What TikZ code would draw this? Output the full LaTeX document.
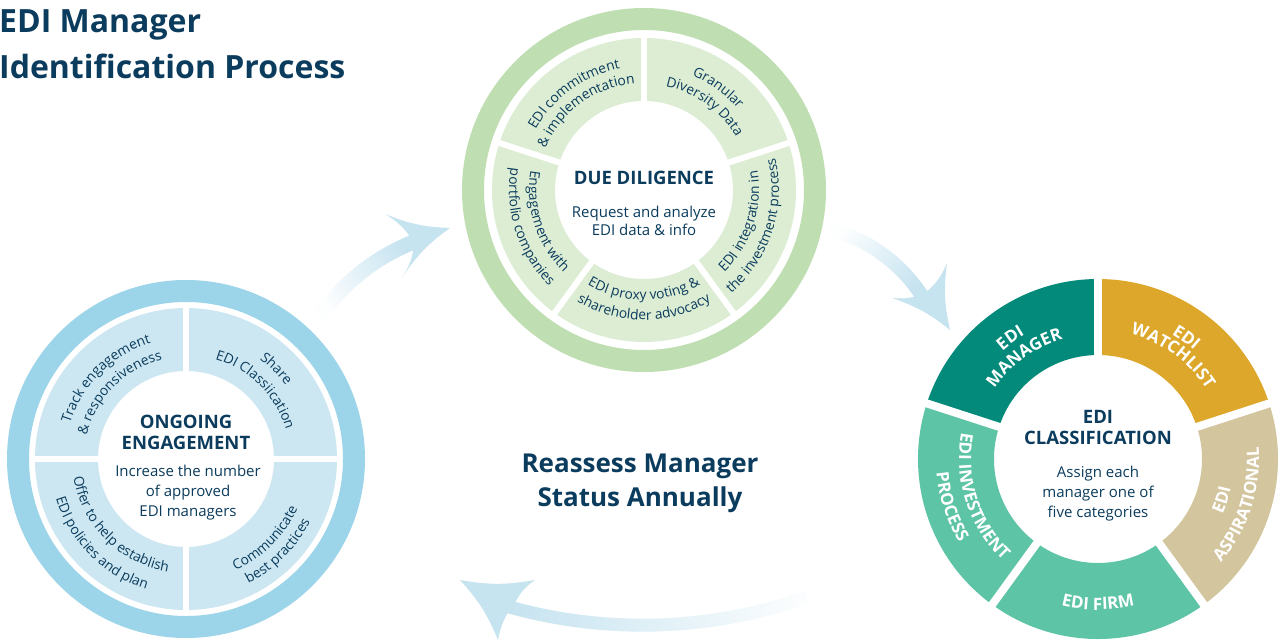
\documentclass[tikz,border=0pt]{standalone}
\usepackage{fontspec}
\setmainfont{Open Sans}
\usetikzlibrary{calc,decorations.text}

\definecolor{navy}{HTML}{0B3C5D}
\definecolor{ddring}{HTML}{BFDFB3}
\definecolor{ddseg}{HTML}{DCEDD4}
\definecolor{oering}{HTML}{9CD4E9}
\definecolor{oeseg}{HTML}{CCE7F2}
\definecolor{clmanager}{HTML}{038A7A}
\definecolor{clwatch}{HTML}{DCA72A}
\definecolor{claspir}{HTML}{D3C59E}
\definecolor{clfirm}{HTML}{5DC4A6}
\definecolor{arrowblue}{HTML}{C6E3F0}

\newcommand\segfnt{\fontsize{13.8}{16}\selectfont}
\newcommand\clfnt{\bfseries\fontsize{17}{20}\selectfont}

% annular sector: colour, centre, start angle, end angle, inner radius, outer radius
\newcommand\ringpiece[6]{%
  \fill[#1] ($(#2)+(#3:#6)$) arc[start angle=#3, end angle=#4, radius=#6]
    -- ($(#2)+(#4:#5)$) arc[start angle=#4, end angle=#3, radius=#5] -- cycle;}

% arrow head with concave sides: tip, corner, notch, corner (counter-clockwise)
\newcommand\arrowhead[4]{%
  \fill[arrowblue] (#1) to[bend left=10] (#2) to[bend left=14] (#3)
    to[bend left=14] (#4) to[bend left=10] (#1) -- cycle;}

% one line of text set on a circular arc:
% centre, baseline radius, start angle, end angle, colour, text
\newcommand\arcline[6]{%
  \path[arclabel=#5, decoration={text={#6}}]
    ($(#1)+(#3:#2)$) arc[start angle=#3, end angle=#4, radius=#2];}

\begin{document}
\begin{tikzpicture}[x=1pt, y=1pt,
  arclabel/.style={decorate, decoration={text along path, text align=center, text color=#1}},
  hubtitle/.style={text=navy, font=\bfseries\fontsize{18.5}{21}\selectfont, align=center, inner sep=0pt},
  hubbody/.style={text=navy, font=\fontsize{15}{20}\selectfont, align=center, inner sep=0pt},
  gapline/.style={white, line width=#1},
  gapline/.default=6,
]
\useasboundingbox (0,0) rectangle (1278,-641);
\fill[white] (0,0) rectangle (1278,-641);

% ---------- title ----------
\node[anchor=base west, text=navy, font=\bfseries\fontsize{32}{46}\selectfont,
      align=left, inner sep=0pt] (title) at (-1,-78) {EDI Manager\\Identification Process};

% ---------- centres ----------
\coordinate (dd) at (644,-190);
\coordinate (oe) at (186,-459);
\coordinate (cl) at (1098,-459);

% ---------- curved arrows ----------
\coordinate (a1o) at (490.4,-435.3);
\coordinate (a2o) at (788.8,-382.6);
\coordinate (a3o) at (642.5,-128.2);

\shade[top color=arrowblue, bottom color=arrowblue!4, shading angle=-55]
  ($(a1o)+(145:215.5)$) arc[start angle=145, end angle=111, radius=215.5]
  -- ($(a1o)+(111:200.5)$) arc[start angle=111, end angle=145, radius=200.5] -- cycle;
\coordinate (h1tip) at (450,-228);
\coordinate (h1a) at (385,-214);
\coordinate (h1n) at (414,-243);
\coordinate (h1b) at (403,-276);
\arrowhead{h1tip}{h1a}{h1n}{h1b}

\shade[top color=arrowblue, bottom color=arrowblue!4, shading angle=-125]
  ($(a2o)+(75:166)$) arc[start angle=75, end angle=33, radius=166]
  -- ($(a2o)+(33:152)$) arc[start angle=33, end angle=75, radius=152] -- cycle;
\coordinate (h2tip) at (950,-330);
\coordinate (h2a) at (947,-263);
\coordinate (h2n) at (925,-293);
\coordinate (h2b) at (892,-298);
\arrowhead{h2tip}{h2a}{h2n}{h2b}

\shade[top color=arrowblue, bottom color=arrowblue!4, shading angle=90]
  ($(a3o)+(-70.7:503.5)$) arc[start angle=-70.7, end angle=-105.5, radius=503.5]
  -- ($(a3o)+(-105.5:490.5)$) arc[start angle=-105.5, end angle=-70.7, radius=490.5] -- cycle;
\coordinate (h3tip) at (460,-580);
\coordinate (h3a) at (498,-640);
\coordinate (h3n) at (515,-603);
\coordinate (h3b) at (535,-580);
\arrowhead{h3tip}{h3a}{h3n}{h3b}

% ---------- due diligence wheel ----------
\fill[ddring, even odd rule] (dd) circle[radius=182] (dd) circle[radius=160];
\fill[ddseg, even odd rule] (dd) circle[radius=152] (dd) circle[radius=89];
\foreach \a in {18,90,162,234,306}
  \draw[gapline] ($(dd)+(\a:86)$) -- ($(dd)+(\a:155)$);

\arcline{dd}{124}{139}{-31}{navy}{|\segfnt|Granular}
\arcline{dd}{106}{139}{-31}{navy}{|\segfnt|Diversity Data}
\arcline{dd}{124}{211}{41}{navy}{|\segfnt|EDI commitment}
\arcline{dd}{107}{211}{41}{navy}{|\segfnt|{\&} implementation}
\arcline{dd}{115}{113}{283}{navy}{|\segfnt|Engagement with}
\arcline{dd}{135}{113}{283}{navy}{|\segfnt|portfolio companies}
\arcline{dd}{110}{185}{355}{navy}{|\segfnt|EDI proxy voting {\&}}
\arcline{dd}{130}{185}{355}{navy}{|\segfnt|shareholder advocacy}
\arcline{dd}{115}{257}{427}{navy}{|\segfnt|EDI integration in}
\arcline{dd}{135}{257}{427}{navy}{|\segfnt|the investment process}

\node[hubtitle] (dd-title) at (644,-178) {DUE DILIGENCE};
\node[hubbody, font=\fontsize{15}{18}\selectfont] (dd-body) at (644,-221) {Request and analyze\\EDI data \& info};

% ---------- ongoing engagement wheel ----------
\fill[oering, even odd rule] (oe) circle[radius=179] (oe) circle[radius=157];
\fill[oeseg, even odd rule] (oe) circle[radius=151] (oe) circle[radius=88];
\foreach \a in {0,90,180,270}
  \draw[gapline] ($(oe)+(\a:85)$) -- ($(oe)+(\a:154)$);

\arcline{oe}{121}{220}{50}{navy}{|\segfnt|Track engagement}
\arcline{oe}{102}{220}{50}{navy}{|\segfnt|{\&} responsiveness}
\arcline{oe}{124}{130}{-40}{navy}{|\segfnt|Share}
\arcline{oe}{104}{130}{-40}{navy}{|\segfnt|EDI Classiication}
\arcline{oe}{122}{230}{400}{navy}{|\segfnt|Communicate}
\arcline{oe}{139}{230}{400}{navy}{|\segfnt|best practices}
\arcline{oe}{114}{140}{310}{navy}{|\segfnt|Offer to help establish}
\arcline{oe}{136}{140}{310}{navy}{|\segfnt|EDI policies and plan}

\node[hubtitle] (oe-title) at (186,-432.5) {ONGOING\\ENGAGEMENT};
\node[hubbody] (oe-body) at (188,-493) {Increase the number\\of approved\\EDI managers};

% ---------- classification wheel ----------
\ringpiece{clwatch}{cl}{18}{90}{104}{180}
\ringpiece{clmanager}{cl}{90}{162}{104}{180}
\ringpiece{clfirm}{cl}{162}{234}{104}{180}
\ringpiece{clfirm}{cl}{234}{306}{104}{180}
\ringpiece{claspir}{cl}{306}{378}{104}{180}
\foreach \a in {18,90,162,234,306}
  \draw[gapline=8] ($(cl)+(\a:100)$) -- ($(cl)+(\a:184)$);

\arcline{cl}{144}{211}{41}{white}{|\clfnt|EDI}
\arcline{cl}{125}{211}{41}{white}{|\clfnt|MANAGER}
\arcline{cl}{145}{139}{-31}{white}{|\clfnt|EDI}
\arcline{cl}{129}{139}{-31}{white}{|\clfnt|WATCHLIST}
\arcline{cl}{139}{113}{283}{white}{|\clfnt|EDI INVESTMENT}
\arcline{cl}{162}{113}{283}{white}{|\clfnt|PROCESS}
\arcline{cl}{151}{185}{355}{white}{|\clfnt|EDI FIRM}
\arcline{cl}{136}{257}{427}{white}{|\clfnt|EDI}
\arcline{cl}{161}{257}{427}{white}{|\clfnt|ASPIRATIONAL}

\node[hubtitle] (cl-title) at (1098,-427.5) {EDI\\CLASSIFICATION};
\node[hubbody] (cl-body) at (1098,-494) {Assign each\\manager one of\\five categories};

% ---------- centre caption ----------
\node[text=navy, font=\bfseries\fontsize{26}{34}\selectfont, align=center, inner sep=0pt]
  (reassess) at (640,-483) {Reassess Manager\\Status Annually};
\end{tikzpicture}
\end{document}
